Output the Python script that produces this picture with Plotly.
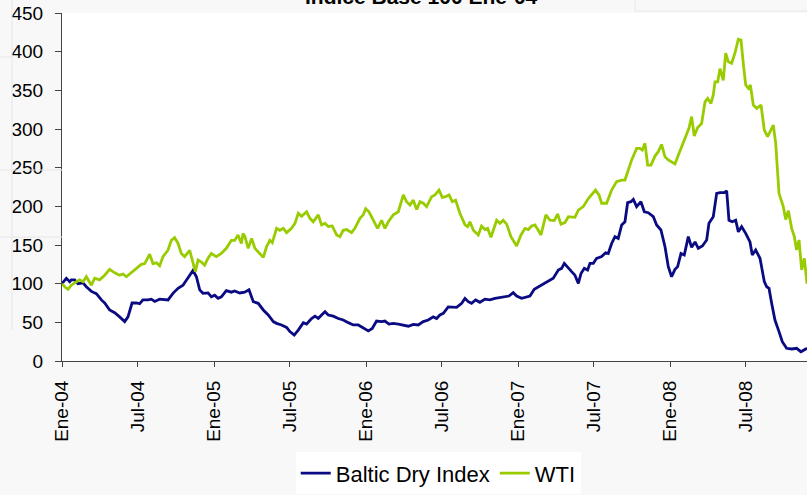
import numpy as np
import pandas as pd
import plotly.graph_objects as go

# Months elapsed since Ene-04 (x) and index values (Base 100 = Ene-04)
bdi_months = [0.00, 0.34, 0.61, 0.74, 1.00, 1.26, 1.66, 1.92, 2.32, 2.71, 3.11, 3.37, 3.76, 4.16, 4.55, 4.95,
              5.21, 5.53, 5.87, 6.13, 6.39, 6.79, 7.05, 7.32, 7.71, 8.11, 8.37, 8.76, 9.16, 9.55, 9.82, 10.08,
              10.34, 10.61, 10.87, 11.13, 11.53, 11.79, 12.05, 12.32, 12.58, 12.97, 13.37, 13.63, 14.03, 14.42,
              14.76, 15.10, 15.49, 15.89, 16.28, 16.68, 16.94, 17.33, 17.73, 17.99, 18.33, 18.65, 19.05, 19.31,
              19.70, 19.97, 20.23, 20.49, 20.76, 21.02, 21.41, 21.81, 22.20, 22.60, 22.99, 23.39, 23.78, 24.18,
              24.49, 24.83, 25.23, 25.49, 25.81, 26.15, 26.55, 26.94, 27.34, 27.73, 28.12, 28.52, 28.91, 29.31,
              29.57, 29.83, 30.10, 30.49, 30.89, 31.15, 31.55, 31.81, 32.07, 32.33, 32.65, 32.99, 33.39, 33.78,
              34.18, 34.57, 34.97, 35.28, 35.62, 35.89, 36.28, 36.68, 36.94, 37.28, 37.73, 38.12, 38.52, 38.78,
              39.18, 39.44, 39.65, 39.97, 40.23, 40.49, 40.76, 40.97, 41.23, 41.49, 41.68, 41.94, 42.20, 42.60,
              42.91, 43.12, 43.39, 43.65, 43.91, 44.18, 44.44, 44.65, 44.91, 45.10, 45.36, 45.70, 45.97, 46.28,
              46.68, 46.94, 47.28, 47.60, 47.86, 48.12, 48.39, 48.60, 48.86, 49.12, 49.44, 49.70, 49.97, 50.23,
              50.55, 50.89, 51.07, 51.41, 51.68, 51.94, 52.28, 52.47, 52.65, 52.91, 53.18, 53.39, 53.65, 53.97,
              54.31, 54.49, 54.76, 55.10, 55.44, 55.63, 55.81, 56.02, 56.28, 56.60, 56.86, 57.20, 57.60, 57.99,
              58.33, 58.81]
bdi_values = [100, 107, 102.6, 105, 105, 100, 101, 96, 90, 87, 79, 75, 66, 62.5, 57, 51,
              57, 75, 75, 74, 79, 79, 80, 77, 80, 79, 79, 87.5, 94, 98, 105, 111,
              117, 109, 92, 87.5, 88, 83, 85, 81, 83, 91, 89, 90.5, 88, 89,
              92, 76.7, 74.6, 66, 59.5, 51, 48.7, 46.6, 43.5, 38, 33.6, 40, 49.6, 47.8,
              55, 58, 55, 59.5, 63.8, 59.5, 58, 55, 53, 49.6, 46.6, 46.6, 43, 39,
              42, 51.7, 51, 51.7, 47.8, 48.7, 47.8, 46.6, 45, 47.4, 46.6, 51, 53, 57,
              55, 59.5, 61.6, 70, 70, 69.4, 74.6, 81, 76.7, 74.6, 79, 75.9, 80, 79,
              81, 82, 83, 84, 88.4, 84, 81, 82.3, 84, 92.7, 97, 101, 104.7, 107,
              117.7, 119.8, 126.3, 119.8, 115.5, 111, 100.4, 113, 119.8, 117.7, 126.3, 126.3, 132.8, 135,
              140, 139, 152, 160.8, 158.6, 175.9, 180, 204.7, 206, 209, 199.6, 206, 193, 191.8,
              186.6, 175.9, 169.4, 147.8, 122, 109, 118.5, 122, 139, 137, 160.8, 147, 154, 145.7,
              148.7, 156.5, 178, 186.6, 216.8, 217.7, 217.7, 220, 182, 180, 182, 167, 173.7, 165,
              154, 137, 143.5, 132.8, 102.6, 96, 94, 74.6, 53, 38, 25, 16.4, 15.5, 16.4,
              12, 16.4]

wti_months = [0.00, 0.21, 0.47, 0.74, 1.00, 1.39, 1.66, 1.92, 2.32, 2.58, 2.97, 3.37, 3.76, 4.16, 4.55, 4.82,
              5.08, 5.47, 5.87, 6.26, 6.53, 6.92, 7.18, 7.45, 7.71, 7.97, 8.37, 8.63, 8.89, 9.16, 9.42, 9.68,
              10.08, 10.34, 10.53, 10.74, 11.00, 11.26, 11.53, 11.79, 12.18, 12.58, 12.97, 13.37, 13.63, 13.89,
              14.16, 14.29, 14.44, 14.70, 14.97, 15.23, 15.49, 15.89, 16.15, 16.41, 16.60, 16.94, 17.20, 17.47,
              17.73, 18.12, 18.39, 18.65, 18.91, 19.31, 19.57, 19.83, 20.23, 20.49, 20.76, 21.02, 21.33, 21.68,
              21.94, 22.20, 22.47, 22.86, 23.12, 23.52, 23.78, 23.97, 24.23, 24.57, 24.91, 25.23, 25.49, 25.76,
              26.15, 26.55, 26.94, 27.20, 27.47, 27.73, 28.00, 28.26, 28.52, 28.78, 29.18, 29.44, 29.76, 30.02,
              30.28, 30.55, 30.81, 31.07, 31.41, 31.81, 32.02, 32.20, 32.47, 32.86, 33.12, 33.39, 33.60, 33.86,
              34.31, 34.57, 34.83, 35.10, 35.44, 35.89, 36.23, 36.55, 36.81, 37.07, 37.33, 37.60, 37.81, 38.20,
              38.52, 38.86, 39.12, 39.39, 39.70, 39.97, 40.49, 40.76, 41.15, 41.55, 41.81, 42.12, 42.39, 42.60,
              42.99, 43.39, 43.78, 44.18, 44.44, 44.70, 44.97, 45.36, 45.62, 45.81, 46.02, 46.23, 46.49, 46.81,
              47.07, 47.33, 47.60, 47.86, 48.12, 48.39, 48.65, 48.91, 49.31, 49.49, 49.70, 49.91, 50.18, 50.49,
              50.76, 50.97, 51.23, 51.41, 51.55, 51.76, 51.94, 52.20, 52.39, 52.60, 52.86, 53.12, 53.39, 53.60,
              53.78, 53.97, 54.18, 54.34, 54.57, 54.84, 55.18, 55.44, 55.70, 55.91, 56.15, 56.34, 56.60, 56.94,
              57.13, 57.34, 57.60, 57.81, 57.99, 58.18, 58.39, 58.60, 58.81]
wti_values = [100, 96, 92.7, 98, 101, 105, 102.6, 109, 98, 107, 105, 111, 118.5, 114, 111, 112.5,
              109, 114, 120, 125, 126, 138, 126, 127, 123, 135, 143.5, 156, 159.5, 152, 139, 135,
              143, 126, 115.5, 130.6, 128, 124, 133, 139, 135, 139, 145.7, 156, 156, 163,
              152, 165, 160.8, 145.7, 158.6, 145.7, 141, 134, 148, 156, 153, 171.5, 169, 171.5,
              166, 171.5, 178, 191, 187, 193, 184.5, 180, 189, 176, 178, 174, 174.6, 163,
              160.8, 169, 170, 166, 171.5, 184.5, 189, 197, 193, 182, 171.5, 182, 171.5, 180,
              189, 193, 214.7, 206, 201.7, 208, 196, 206, 204, 199.6, 212.5, 214.7, 221, 211.6,
              212.5, 214.7, 206, 208, 191, 176, 173.7, 180, 169, 163, 174.6, 170, 171.5, 160,
              182, 178, 182, 177, 160.8, 148.7, 163, 171.5, 170, 174.6, 176, 169, 163, 189,
              182, 181.5, 190, 177, 179, 186.6, 185.8, 195, 199.6, 210, 214.7, 221, 214.7, 204,
              204, 221, 232, 234, 234, 247, 260, 275, 275, 272.8, 281.5, 253.4, 253.4, 265,
              270.7, 280, 264, 260, 257.8, 254.7, 266, 277, 292, 301, 316, 291, 302, 307,
              335, 339.6, 333, 344, 361, 361, 378, 363, 398, 387, 385, 398, 416, 415,
              385, 357, 352.6, 357, 331, 326.7, 331, 298.7, 290, 296.6, 305, 281.5, 216.8, 199.6,
              183, 194.4, 171.6, 160.8, 143.5, 156.5, 117.7, 132.8, 100]

tick_dates = ["2004-01-01", "2004-07-01", "2005-01-01", "2005-07-01", "2006-01-01",
              "2006-07-01", "2007-01-01", "2007-07-01", "2008-01-01", "2008-07-01"]
tick_labels = ["Ene-04", "Jul-04", "Ene-05", "Jul-05", "Ene-06",
               "Jul-06", "Ene-07", "Jul-07", "Ene-08", "Jul-08"]
y_ticks = [0, 50, 100, 150, 200, 250, 300, 350, 400, 450]

start = pd.Timestamp("2004-01-01")


def to_dates(months):
    return start + pd.to_timedelta(np.asarray(months) * 30.4375, unit="D")


bdi_x = to_dates(bdi_months)
wti_x = to_dates(wti_months)
x_end = to_dates([max(bdi_months[-1], wti_months[-1])])[0]

FONT = "Liberation Sans, Arial, sans-serif"

fig = go.Figure()
fig.add_trace(go.Scatter(x=bdi_x, y=bdi_values, mode="lines", name="Baltic Dry Index",
                         line=dict(color="#0a0a82", width=2.8)))
fig.add_trace(go.Scatter(x=wti_x, y=wti_values, mode="lines", name="WTI",
                         line=dict(color="#99cc00", width=2.8)))

axis_color = "#444444"
fig.update_layout(
    width=807, height=495,
    margin=dict(l=62, r=0, t=13, b=134),
    paper_bgcolor="#f8f8f8",
    plot_bgcolor="#ffffff",
    font=dict(family=FONT, size=19, color="#000000"),
    showlegend=True,
    legend=dict(orientation="h", x=0.505, xanchor="center", y=-0.383, yanchor="bottom",
                bgcolor="#ffffff", font=dict(size=22, family=FONT, color="#000000"),
                itemwidth=30, tracegroupgap=0),
    xaxis=dict(type="date", range=[start, x_end], tickmode="array",
               tickvals=tick_dates, ticktext=tick_labels, tickangle=-90,
               showgrid=False, zeroline=False, showline=True, linecolor=axis_color, linewidth=1,
               ticks="outside", ticklen=5, tickcolor=axis_color, ticklabelstandoff=6,
               tickfont=dict(size=19, family=FONT, color="#000000")),
    yaxis=dict(range=[0, 450], tickmode="array", tickvals=y_ticks,
               showgrid=False, zeroline=False, showline=True, linecolor=axis_color, linewidth=1,
               ticks="outside", ticklen=6, tickcolor=axis_color, ticklabelstandoff=8,
               tickfont=dict(size=19, family=FONT, color="#000000")),
)

# Title, partly cut at the top as in the source slide
fig.add_annotation(text="<b>Indice Base 100 Ene-04</b>", xref="paper", yref="paper",
                   x=0.482, y=1.009, xanchor="center", yanchor="bottom", showarrow=False,
                   font=dict(size=21, family=FONT, color="#000000"))

# faint slide artefacts
shape_line = dict(color="#e6e6e6", width=1)
fig.add_shape(type="line", xref="paper", yref="paper", x0=-62/745, x1=-50/745, y0=(361-57)/348, y1=(361-57)/348, line=shape_line)
fig.add_shape(type="line", xref="paper", yref="paper", x0=-62/745, x1=0, y0=(361-170)/348, y1=(361-170)/348, line=shape_line)
fig.add_shape(type="line", xref="paper", yref="paper", x0=-62/745, x1=0, y0=(361-237)/348, y1=(361-237)/348, line=shape_line)
fig.add_shape(type="line", xref="paper", yref="paper", x0=-50/745, x1=-50/745, y0=(361-330)/348, y1=(361+0)/348, line=shape_line)
fig.add_shape(type="rect", xref="paper", yref="paper", x0=(635-62)/745, x1=1.01, y0=(361-11)/348, y1=1.05,
              line=dict(color="#e8e8e8", width=1), fillcolor="#f8f8f8", layer="below")

fig.write_html("out.html", config={"displayModeBar": False},
               post_script="document.body.style.margin='0';")
